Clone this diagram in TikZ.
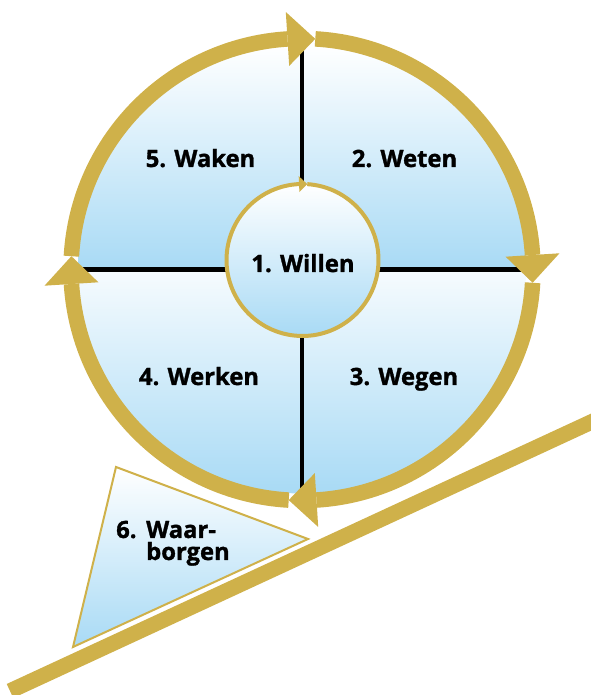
\documentclass[tikz,border=0pt]{standalone}
\usepackage{fontspec}
\setmainfont{Open Sans}[BoldFeatures={FakeBold=1.3}]
\definecolor{gold}{RGB}{207,177,74}
\definecolor{skyb}{RGB}{168,218,245}
\begin{document}
\begin{tikzpicture}[x=1pt,y=1pt,
  ring/.style={draw=gold, line width=15.5pt, line cap=butt},
  goldhead/.style={fill=gold},
  cross/.style={draw=black, line width=4.5pt},
  skyfill/.style={top color=white, bottom color=skyb},
  lbl/.style={font=\bfseries\fontsize{23.8}{28}\selectfont, inner sep=0pt, anchor=base}]
\useasboundingbox (0,0) rectangle (590,695);
\coordinate (C) at (302,425.5);
\def\R{231}
% quadrant fills
\shade[skyfill] ([shift={(C)}]0:224) arc[start angle=0,end angle=180,radius=224] -- cycle;
\shade[top color=white!90!skyb, bottom color=skyb] ([shift={(C)}]180:224) arc[start angle=180,end angle=360,radius=224] -- cycle;
% cross
\coordinate (L) at ([shift={(C)}]180:224);
\coordinate (Rr) at ([shift={(C)}]0:224);
\coordinate (T) at ([shift={(C)}]90:226);
\coordinate (B) at ([shift={(C)}]270:224);
\draw[cross] (L) -- (Rr);
\draw[cross] (T) -- (B);
% inner circle
\coordinate (I) at (302.5,435);
\shade[skyfill] (I) circle[radius=76];
\draw[draw=gold, line width=4pt] ([shift={(I)}]86.4:76) arc[start angle=86.4, end angle=-267.4, radius=76];
\fill[goldhead] ([shift={(I)}]92.6:84) -- ([shift={(I)}]92.6:68) -- ([shift={(I)}]86.4:76) -- cycle;
% ring with arrows
\foreach \q in {90,0,-90,-180} {
  \draw[ring] ([shift={(C)}]{\q+86.7}:\R) arc[start angle={\q+86.7}, end angle={\q+3.6}, radius=\R];
  \fill[goldhead] ([shift={(C)}]{\q+3.6}:{\R+27}) -- ([shift={(C)}]{\q+3.6}:{\R-27}) -- ([shift={(C)}]{\q-3.3}:\R) -- cycle;
}
% slope
\coordinate (S1) at (10,4);
\coordinate (S2) at (600,277);
\draw[gold, line width=15.5pt] (S1) -- (S2);
% triangle
\coordinate (T1) at (116,228);
\coordinate (T2) at (308,156);
\coordinate (T3) at (73,48);
\path[skyfill, draw=gold, line width=2pt] (T1) -- (T2) -- (T3) -- cycle;
% labels
\node[lbl] (wa) at (200.5,528) {5. Waken};
\node[lbl] (we) at (404.5,528) {2. Weten};
\node[lbl] (wr) at (199,310) {4. Werken};
\node[lbl] (wg) at (404,310) {3. Wegen};
\node[lbl] (wi) at (303,423) {1. Willen};
\node[lbl, anchor=base west] (w6) at (116,157) {6.};
\node[lbl, anchor=base west] (w6a) at (146,157) {Waar-};
\node[lbl, anchor=base west] (w6b) at (146,135) {borgen};
\end{tikzpicture}
\end{document}
